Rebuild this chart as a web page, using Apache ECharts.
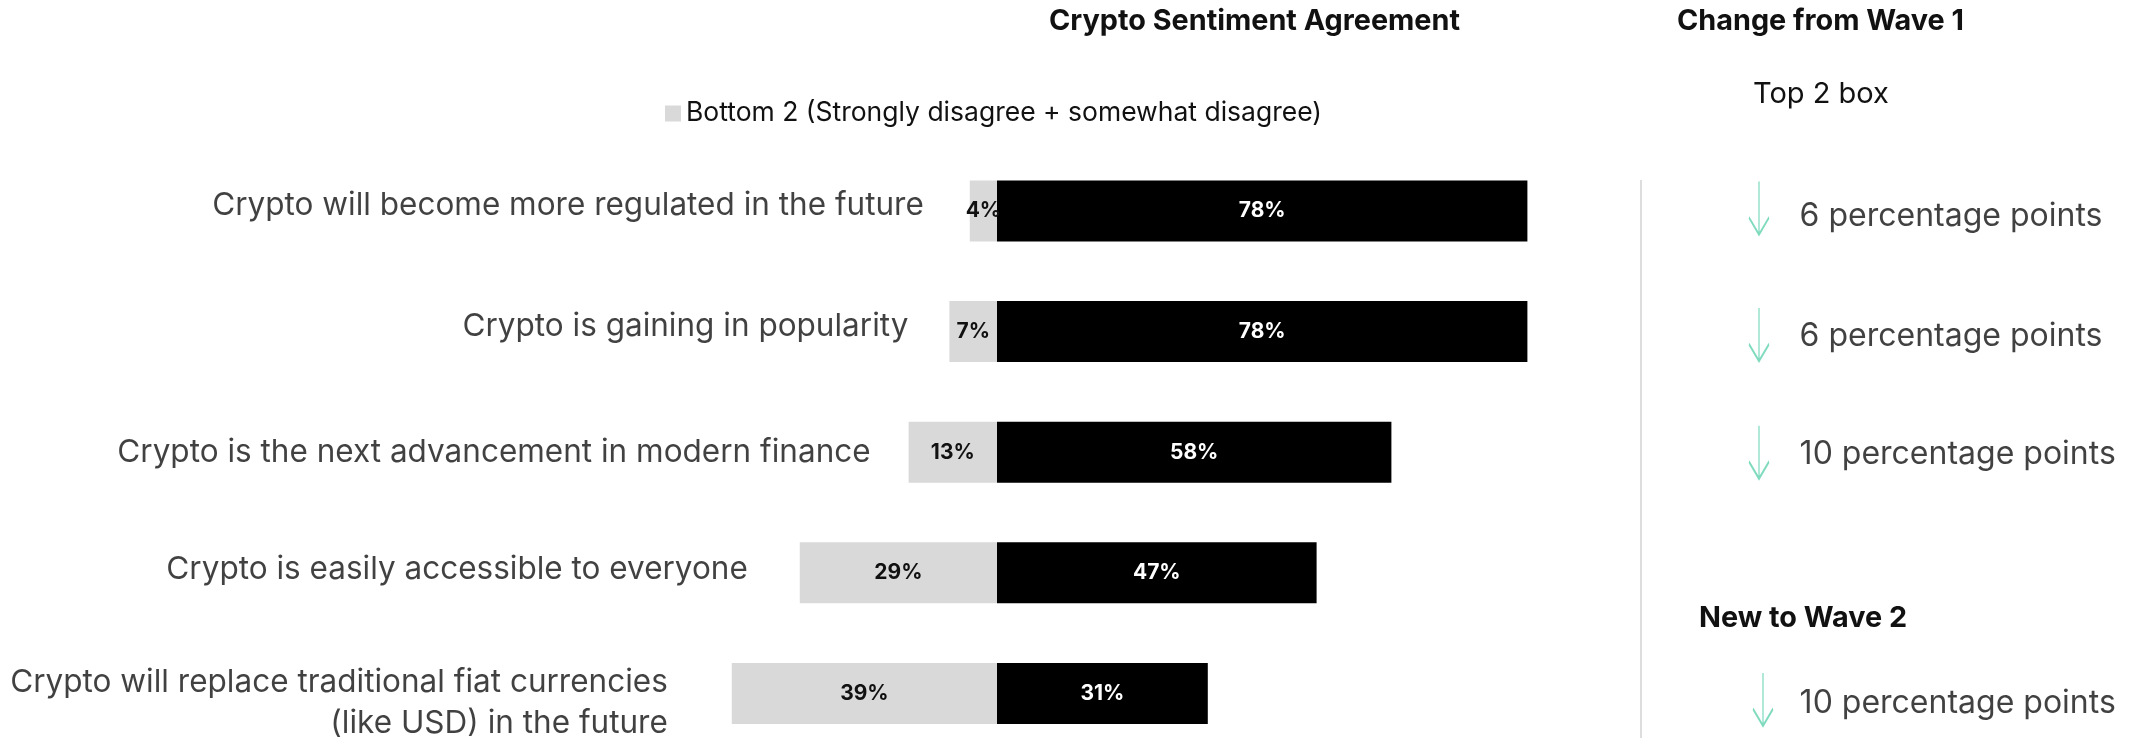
<!DOCTYPE html>
<html>
<head>
<meta charset="utf-8">
<script src="https://cdn.jsdelivr.net/npm/echarts@6/dist/echarts.min.js"></script>
<style>
  html, body { margin: 0; padding: 0; background: #ffffff; }
  #chart { width: 2144px; height: 738px; }
</style>
</head>
<body>
<div id="chart"></div>
<script>
// Survey statements, top to bottom
const categories = [
  'Crypto will become more regulated in the future',
  'Crypto is gaining in popularity',
  'Crypto is the next advancement in modern finance',
  'Crypto is easily accessible to everyone',
  'Crypto will replace traditional fiat currencies\n(like USD) in the future'
];
// Bottom 2 box (disagree) and Top 2 box (agree), in percent
const bottom2 = [4, 7, 13, 29, 39];
const top2 = [78, 78, 58, 47, 31];
// Change in Top 2 box, percentage points (null = no change shown)
const topBoxChange = [-6, -6, -10, null, -10];

const bottomName = 'Bottom 2 (Strongly disagree + somewhat disagree)';
const topName = 'Top 2 (Strongly agree + somewhat agree)';

// Layout tuning for the statement labels
const nameGap = [46, 41, 38, 52, 64];
const nameNudge = [-5, -5, 0, -3, 10];
// Layout tuning for the change arrows: [dx, dy] of the arrow, dy of its text
const arrowNudge = [[0, -3], [0, 3], [0, 0], [0, 0], [4, 6]];
const changeTextNudge = [8, 2, 2, 0, 4];

const FONT = 'Inter, "Noto Sans", sans-serif';
const INK = '#111111';
const MINT = '#5fd1ae';
const ARROW_DOWN = 'path://M10 0 L10 53 M0 36 L10 53 L20 36';
const ARROW_UP = 'path://M10 53 L10 0 M0 17 L10 0 L20 17';

const chart = echarts.init(document.getElementById('chart'), null, { renderer: 'canvas' });

const nameData = bottom2.map((v, i) => ({
  value: [-v, i],
  label: { distance: nameGap[i], offset: [0, nameNudge[i]] }
}));

const changeData = topBoxChange
  .map((v, i) => ({ v, i }))
  .filter(d => d.v !== null)
  .map(d => ({
    value: [0, d.i],
    change: d.v,
    symbol: d.v < 0 ? ARROW_DOWN : ARROW_UP,
    symbolOffset: arrowNudge[d.i],
    label: { distance: 30 - arrowNudge[d.i][0], offset: [0, changeTextNudge[d.i]] }
  }));

const option = {
  animation: false,
  backgroundColor: '#ffffff',
  legend: {
    data: [bottomName],
    left: 665,
    top: 100,
    padding: 0,
    icon: 'rect',
    itemWidth: 16,
    itemHeight: 16,
    selectedMode: false,
    textStyle: { fontFamily: FONT, fontSize: 26.5, color: INK }
  },
  grid: [
    { left: 657, width: 884, top: 150.7, height: 603, containLabel: false, outerBoundsMode: 'none' },
    { left: 1759, width: 100, top: 150.7, height: 603, containLabel: false, outerBoundsMode: 'none' }
  ],
  xAxis: [
    { type: 'value', gridIndex: 0, min: -50, max: 80, show: false },
    { type: 'value', gridIndex: 1, min: 0, max: 1, show: false }
  ],
  yAxis: [
    { type: 'category', gridIndex: 0, data: categories, inverse: true, show: false },
    { type: 'category', gridIndex: 1, data: categories, inverse: true, show: false }
  ],
  series: [
    {
      name: bottomName,
      type: 'bar',
      stack: 'agreement',
      barWidth: 61,
      data: bottom2.map(v => -v),
      itemStyle: { color: '#d9d9d9' },
      label: {
        show: true,
        position: 'inside',
        formatter: p => Math.abs(p.value) + '%',
        color: INK,
        fontFamily: FONT,
        fontWeight: 700,
        fontSize: 21
      }
    },
    {
      name: topName,
      type: 'bar',
      stack: 'agreement',
      barWidth: 61,
      data: top2,
      itemStyle: { color: '#000000' },
      label: {
        show: true,
        position: 'inside',
        formatter: p => p.value + '%',
        color: '#ffffff',
        fontFamily: FONT,
        fontWeight: 700,
        fontSize: 21
      }
    },
    {
      name: 'statements',
      type: 'scatter',
      xAxisIndex: 0,
      yAxisIndex: 0,
      symbolSize: 0,
      silent: true,
      data: nameData,
      label: {
        show: true,
        position: 'left',
        align: 'right',
        formatter: p => categories[p.dataIndex],
        fontFamily: FONT,
        fontSize: 31.5,
        lineHeight: 41,
        color: INK
      }
    },
    {
      name: 'change',
      type: 'scatter',
      xAxisIndex: 1,
      yAxisIndex: 1,
      symbolSize: [20, 53],
      silent: true,
      data: changeData,
      itemStyle: { color: 'transparent', borderColor: MINT, borderWidth: 2 },
      label: {
        show: true,
        position: 'right',
        formatter: p => Math.abs(p.data.change) + ' percentage points',
        fontFamily: FONT,
        fontSize: 32,
        color: INK
      }
    }
  ],
  graphic: [
    {
      type: 'text', x: 1049, y: 21,
      style: { text: 'Crypto Sentiment Agreement', fill: INK, font: '700 28.8px ' + FONT,
               textAlign: 'left', textVerticalAlign: 'middle', align: 'left', verticalAlign: 'middle' }
    },
    {
      type: 'text', x: 1677, y: 21,
      style: { text: 'Change from Wave 1', fill: INK, font: '700 28.8px ' + FONT,
               textAlign: 'left', textVerticalAlign: 'middle', align: 'left', verticalAlign: 'middle' }
    },
    {
      type: 'text', x: 1753, y: 94,
      style: { text: 'Top 2 box', fill: INK, font: '400 29px ' + FONT,
               textAlign: 'left', textVerticalAlign: 'middle', align: 'left', verticalAlign: 'middle' }
    },
    {
      type: 'text', x: 1699, y: 618,
      style: { text: 'New to Wave 2', fill: INK, font: '700 28.8px ' + FONT,
               textAlign: 'left', textVerticalAlign: 'middle', align: 'left', verticalAlign: 'middle' }
    },
    {
      type: 'line',
      shape: { x1: 1641, y1: 180, x2: 1641, y2: 738 },
      style: { stroke: '#dddddd', lineWidth: 2 }
    }
  ]
};

chart.setOption(option);
</script>
</body>
</html>
